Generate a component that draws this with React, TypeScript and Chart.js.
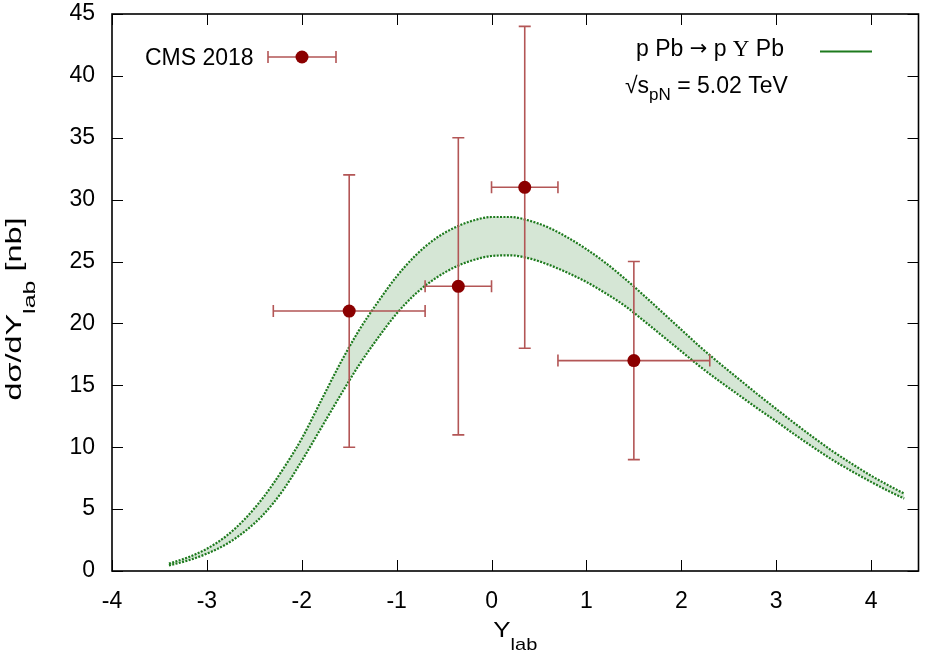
import React, { useEffect, useRef } from 'react';
import { Chart, registerables } from 'chart.js';

Chart.register(...registerables);

// ---------- data ----------
const bandX = [-3.4, -3.2, -3.0, -2.8, -2.6, -2.4, -2.2, -2.0, -1.8, -1.6, -1.4, -1.2, -1.0, -0.8, -0.6, -0.4, -0.2, 0, 0.2, 0.4, 0.6, 0.8, 1.0, 1.2, 1.4, 1.6, 1.8, 2.0, 2.2, 2.4, 2.6, 2.8, 3.0, 3.2, 3.4, 3.6, 3.8, 4.0, 4.2, 4.35];
const bandUpper = [0.6, 1.1, 1.8, 2.8, 4.2, 6.0, 8.2, 10.7, 13.7, 16.7, 19.4, 21.7, 23.8, 25.5, 26.8, 27.7, 28.3, 28.6, 28.6, 28.3, 27.75, 26.95, 26.0, 24.9, 23.65, 22.3, 20.9, 19.5, 18.1, 16.8, 15.55, 14.3, 13.1, 11.9, 10.75, 9.65, 8.65, 7.7, 6.85, 6.25];
const bandLower = [0.45, 0.85, 1.4, 2.15, 3.2, 4.6, 6.5, 8.9, 11.5, 14.1, 16.6, 18.8, 20.8, 22.4, 23.6, 24.5, 25.1, 25.45, 25.5, 25.25, 24.75, 24.1, 23.35, 22.45, 21.45, 20.25, 19.0, 17.75, 16.5, 15.35, 14.25, 13.15, 12.1, 11.0, 9.95, 8.95, 8.05, 7.2, 6.4, 5.85];

const cmsX = [-1.5, -0.35, 0.35, 1.5];
const cmsY = [21, 23, 31, 17];
const cmsXLow = [-2.3, -0.7, 0, 0.7];
const cmsXHigh = [-0.7, 0, 0.7, 2.3];
const cmsYLow = [10, 11, 18, 9];
const cmsYHigh = [32, 35, 44, 25];

const xTicks = [-4, -3, -2, -1, 0, 1, 2, 3, 4];
const yTicks = [0, 5, 10, 15, 20, 25, 30, 35, 40, 45];

const X_MIN = -4;
const X_MAX = 4.5;
const Y_MIN = 0;
const Y_MAX = 45;

// ---------- styles ----------
const FONT = '"Liberation Sans", Arial, Helvetica, sans-serif';
const SERIF = '"Liberation Serif", "DejaVu Serif", serif';
const BAR_COLOR = '#b35656';
const POINT_COLOR = '#8b0000';
const GREEN_LINE = '#1d7a1d';
const GREEN_FILL = 'rgba(34,120,34,0.19)';

type Seg = { t: string; size: number; dy?: number; family?: string };

function measureRich(ctx: CanvasRenderingContext2D, segs: Seg[]) {
  let total = 0;
  for (const s of segs) {
    ctx.font = `${s.size}px ${s.family || FONT}`;
    total += ctx.measureText(s.t).width;
  }
  return total;
}

function drawRich(ctx: CanvasRenderingContext2D, segs: Seg[], x: number, y: number, align: 'left' | 'center' | 'right') {
  const widths: number[] = [];
  let total = 0;
  for (const s of segs) {
    ctx.font = `${s.size}px ${s.family || FONT}`;
    const w = ctx.measureText(s.t).width;
    widths.push(w);
    total += w;
  }
  let cx = align === 'left' ? x : align === 'center' ? x - total / 2 : x - total;
  ctx.textAlign = 'left';
  ctx.textBaseline = 'alphabetic';
  segs.forEach((s, i) => {
    ctx.font = `${s.size}px ${s.family || FONT}`;
    ctx.fillText(s.t, cx, y + (s.dy || 0));
    cx += widths[i];
  });
}

function drawErrorBar(ctx: CanvasRenderingContext2D, x0: number, x1: number, xc: number, yc: number, y0: number | null, y1: number | null, cap: number) {
  ctx.beginPath();
  ctx.moveTo(x0, yc);
  ctx.lineTo(x1, yc);
  ctx.moveTo(x0, yc - cap);
  ctx.lineTo(x0, yc + cap);
  ctx.moveTo(x1, yc - cap);
  ctx.lineTo(x1, yc + cap);
  if (y0 !== null && y1 !== null) {
    ctx.moveTo(xc, y0);
    ctx.lineTo(xc, y1);
    ctx.moveTo(xc - cap, y0);
    ctx.lineTo(xc + cap, y0);
    ctx.moveTo(xc - cap, y1);
    ctx.lineTo(xc + cap, y1);
  }
  ctx.stroke();
}

const errorBarPlugin = {
  id: 'errorBars',
  beforeDatasetDraw(chart: any, args: any) {
    if (args.index !== 0) return;
    const { ctx, scales } = chart;
    const xs = scales.x;
    const ys = scales.y;
    ctx.save();
    ctx.strokeStyle = BAR_COLOR;
    ctx.lineWidth = 1.6;
    for (let i = 0; i < cmsX.length; i++) {
      drawErrorBar(
        ctx,
        xs.getPixelForValue(cmsXLow[i]),
        xs.getPixelForValue(cmsXHigh[i]),
        xs.getPixelForValue(cmsX[i]),
        ys.getPixelForValue(cmsY[i]),
        ys.getPixelForValue(cmsYLow[i]),
        ys.getPixelForValue(cmsYHigh[i]),
        6
      );
    }
    ctx.restore();
  },
};

const framePlugin = {
  id: 'frame',
  afterDraw(chart: any) {
    const { ctx, chartArea: a, scales } = chart;
    const xs = scales.x;
    const ys = scales.y;
    ctx.save();
    // inward ticks on all four sides
    ctx.strokeStyle = '#000';
    ctx.lineWidth = 1;
    const tl = 11;
    ctx.beginPath();
    for (const v of xTicks) {
      const px = Math.round(xs.getPixelForValue(v)) + 0.5;
      ctx.moveTo(px, a.bottom);
      ctx.lineTo(px, a.bottom - tl);
      ctx.moveTo(px, a.top);
      ctx.lineTo(px, a.top + tl);
    }
    for (const v of yTicks) {
      const py = Math.round(ys.getPixelForValue(v)) + 0.5;
      ctx.moveTo(a.left, py);
      ctx.lineTo(a.left + tl, py);
      ctx.moveTo(a.right, py);
      ctx.lineTo(a.right - tl, py);
    }
    ctx.stroke();
    // border
    ctx.lineWidth = 1.6;
    ctx.strokeRect(a.left, a.top, a.right - a.left, a.bottom - a.top);

    // x axis title (slightly wide lettering as in the original)
    ctx.fillStyle = '#000';
    const xt: Seg[] = [
      { t: 'Y', size: 22 },
      { t: 'lab', size: 17, dy: 13 },
    ];
    ctx.save();
    ctx.translate((a.left + a.right) / 2, 637);
    ctx.scale(1.18, 1);
    drawRich(ctx, xt, 0, 0, 'center');
    ctx.restore();

    // y axis title, stretched along its length to match original
    const yt: Seg[] = [
      { t: 'd\u03C3/dY', size: 22 },
      { t: 'lab', size: 17, dy: 13.5 },
      { t: ' [nb]', size: 22 },
    ];
    const ytW = measureRich(ctx, yt);
    const k = 183 / ytW;
    ctx.save();
    ctx.translate(21, 309);
    ctx.rotate(-Math.PI / 2);
    ctx.scale(k, 1);
    drawRich(ctx, yt, 0, 0, 'center');
    ctx.restore();

    // legend: CMS 2018
    drawRich(ctx, [{ t: 'CMS 2018', size: 23 }], 145, 65, 'left');
    ctx.strokeStyle = BAR_COLOR;
    ctx.lineWidth = 1.6;
    drawErrorBar(ctx, 268, 336, 302, 57, null, null, 6);
    ctx.fillStyle = POINT_COLOR;
    ctx.beginPath();
    ctx.arc(302, 57, 6.5, 0, Math.PI * 2);
    ctx.fill();

    // legend: theory band
    ctx.fillStyle = '#000';
    drawRich(ctx, [
      { t: 'p Pb ', size: 23 },
      { t: '\u2192', size: 21, dy: -1, family: '"DejaVu Sans", sans-serif' },
      { t: ' p ', size: 23 },
      { t: '\u03A5', size: 23, family: SERIF },
      { t: ' Pb', size: 23 },
    ], 784, 56, 'right');
    ctx.strokeStyle = GREEN_LINE;
    ctx.lineWidth = 2.2;
    ctx.beginPath();
    ctx.moveTo(820, 51.5);
    ctx.lineTo(872, 51.5);
    ctx.stroke();
    drawRich(ctx, [
      { t: '\u221As', size: 23 },
      { t: 'pN', size: 17, dy: 7 },
      { t: ' = 5.02 TeV', size: 23 },
    ], 625, 93, 'left');
    ctx.restore();
  },
};

export default function App() {
  const ref = useRef<HTMLCanvasElement | null>(null);

  useEffect(() => {
    if (!ref.current) return;
    const upperData = bandX.map((x, i) => ({ x, y: bandUpper[i] }));
    const lowerData = bandX.map((x, i) => ({ x, y: bandLower[i] }));
    const cmsData = cmsX.map((x, i) => ({ x, y: cmsY[i] }));

    const chart = new Chart(ref.current, {
      type: 'scatter',
      data: {
        datasets: [
          {
            type: 'scatter',
            label: 'CMS 2018',
            data: cmsData,
            pointRadius: 6.5,
            pointHoverRadius: 6.5,
            pointBackgroundColor: POINT_COLOR,
            pointBorderColor: POINT_COLOR,
            pointBorderWidth: 0,
            showLine: false,
          } as any,
          {
            type: 'line',
            label: 'upper',
            data: upperData,
            borderColor: GREEN_LINE,
            borderWidth: 2.2,
            borderDash: [2, 1.4],
            backgroundColor: GREEN_FILL,
            fill: '+1',
            pointRadius: 0,
            cubicInterpolationMode: 'monotone',
          } as any,
          {
            type: 'line',
            label: 'lower',
            data: lowerData,
            borderColor: GREEN_LINE,
            borderWidth: 2.2,
            borderDash: [2, 1.4],
            fill: false,
            pointRadius: 0,
            cubicInterpolationMode: 'monotone',
          } as any,
        ],
      },
      options: {
        responsive: false,
        animation: false,
        devicePixelRatio: 1,
        events: [],
        layout: { padding: { left: 0, top: 14, right: 5, bottom: 0 } },
        plugins: {
          legend: { display: false },
          tooltip: { enabled: false },
          filler: { drawTime: 'beforeDatasetsDraw' } as any,
        },
        scales: {
          x: {
            type: 'linear',
            min: X_MIN,
            max: X_MAX,
            grid: { display: false, drawTicks: false },
            border: { display: false },
            afterBuildTicks: (s: any) => {
              s.ticks = xTicks.map((v) => ({ value: v }));
            },
            afterFit: (s: any) => {
              s.height = 85;
              s.paddingLeft = 0;
              s.paddingRight = 0;
              s.paddingTop = 0;
              s.paddingBottom = 0;
            },
            ticks: {
              color: '#000',
              padding: 17,
              maxRotation: 0,
              autoSkip: false,
              font: { family: FONT, size: 23 },
              callback: (v: any) => String(v),
            },
          },
          y: {
            type: 'linear',
            min: Y_MIN,
            max: Y_MAX,
            grid: { display: false, drawTicks: false },
            border: { display: false },
            afterBuildTicks: (s: any) => {
              s.ticks = yTicks.map((v) => ({ value: v }));
            },
            afterFit: (s: any) => {
              s.width = 112;
              s.paddingLeft = 0;
              s.paddingRight = 0;
              s.paddingTop = 0;
              s.paddingBottom = 0;
            },
            ticks: {
              color: '#000',
              padding: 17,
              autoSkip: false,
              font: { family: FONT, size: 23 },
              callback: (v: any) => String(v),
            },
          },
        },
      },
      plugins: [errorBarPlugin, framePlugin],
    } as any);

    return () => chart.destroy();
  }, []);

  return (
    <div style={{ position: 'fixed', left: 0, top: 0, width: 925, height: 656, background: '#fff' }}>
      <canvas ref={ref} width={925} height={656} style={{ display: 'block', width: 925, height: 656 }} />
    </div>
  );
}
